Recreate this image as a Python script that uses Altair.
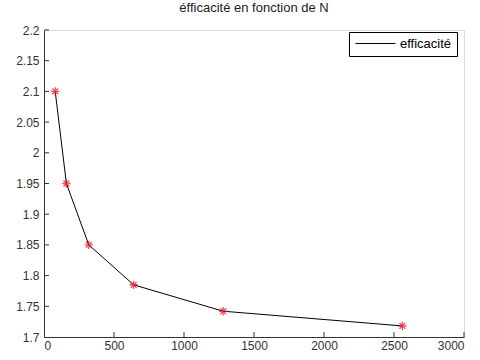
import altair as alt
import pandas as pd

N = [80, 160, 320, 640, 1280, 2560]
eff = [2.1, 1.95, 1.85, 1.785, 1.742, 1.718]
serie = ["efficacité"] * len(N)
x_ticks = [0, 500, 1000, 1500, 2000, 2500, 3000]
y_ticks = [1.7, 1.75, 1.8, 1.85, 1.9, 1.95, 2.0, 2.05, 2.1, 2.15, 2.2]

W, H = 420, 307
FONT = "Liberation Sans"
AX = "#333333"

df = pd.DataFrame({"N": N, "eff": eff, "serie": serie})
xs = alt.Scale(domain=[0, 3000], nice=False, zero=False)
ys = alt.Scale(domain=[1.7, 2.2], nice=False, zero=False)

x_axis = alt.Axis(values=x_ticks, ticks=False, grid=False, title=None, domainColor=AX,
                  labelFont=FONT, labelFontSize=12, labelColor=AX, labelPadding=3, format="d")
y_axis = alt.Axis(values=y_ticks, ticks=False, grid=False, title=None, domainColor=AX,
                  labelFont=FONT, labelFontSize=12, labelColor=AX, labelPadding=5, format="~g")

line = alt.Chart(df).mark_line(strokeWidth=1).encode(
    x=alt.X("N:Q", scale=xs, axis=x_axis),
    y=alt.Y("eff:Q", scale=ys, axis=y_axis),
    color=alt.Color("serie:N", scale=alt.Scale(domain=["efficacité"], range=["black"]),
                    legend=alt.Legend(title=None, orient="none", legendX=305, legendY=2,
                                      strokeColor="black", fillColor="white", padding=5,
                                      symbolType="M-1,0L7,0", symbolSize=100, symbolStrokeWidth=1,
                                      labelFont=FONT, labelFontSize=13, labelColor="black",
                                      labelOffset=33, cornerRadius=0)),
)

star = "M-1,0L1,0M0,-1L0,1M-0.7,-0.7L0.7,0.7M-0.7,0.7L0.7,-0.7"
points = alt.Chart(df).mark_point(shape=star, filled=False, color="#e3102c", strokeWidth=1.4, size=70).encode(
    x=alt.X("N:Q", scale=xs, axis=x_axis),
    y=alt.Y("eff:Q", scale=ys, axis=y_axis),
)

xt = alt.Chart(pd.DataFrame({"v": x_ticks[1:]})).mark_rule(color=AX, strokeWidth=1).encode(
    x=alt.X("v:Q", scale=xs, axis=x_axis), y=alt.value(H), y2=alt.value(H - 5))
yt = alt.Chart(pd.DataFrame({"v": y_ticks[1:]})).mark_rule(color=AX, strokeWidth=1).encode(
    y=alt.Y("v:Q", scale=ys, axis=y_axis), x=alt.value(0), x2=alt.value(5))

chart = alt.layer(line, xt, yt, points).properties(
    width=W, height=H,
    title=alt.TitleParams("éfficacité en fonction de N", font=FONT, fontSize=13, fontWeight="normal",
                          color="#222222", anchor="middle", offset=9),
    autosize=alt.AutoSizeParams(type="none"),
    padding={"left": 44, "top": 30, "right": 16, "bottom": 23},
).configure_view(stroke=None).configure(background="white")

chart.save("out.html", embed_options={"renderer": "svg", "actions": False})
